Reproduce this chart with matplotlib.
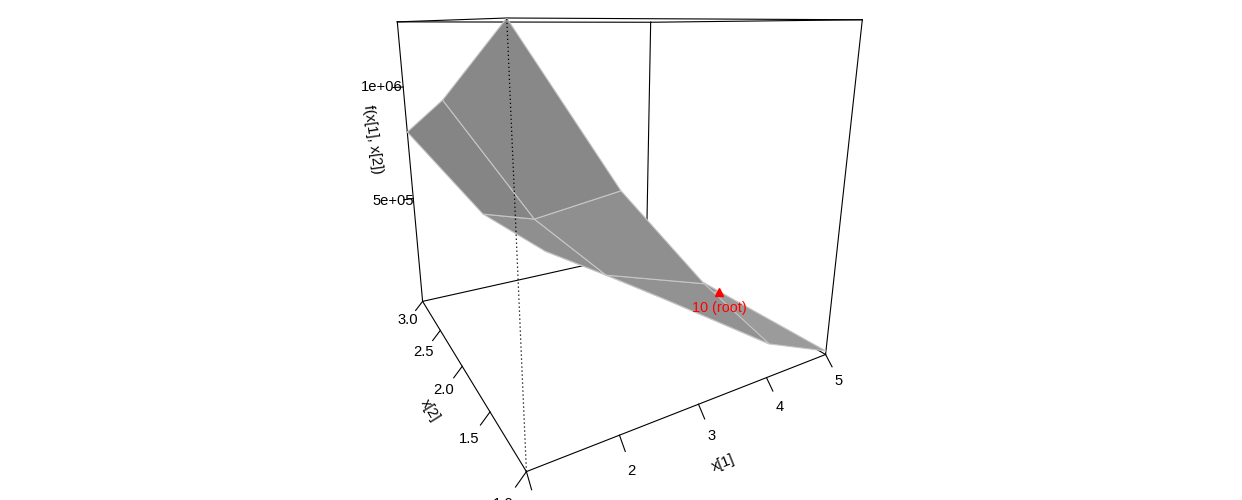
import numpy as np
import matplotlib
matplotlib.use("Agg")
import matplotlib.pyplot as plt
from matplotlib.patches import Polygon

plt.rcParams["font.family"] = ["Liberation Sans", "DejaVu Sans"]

# surface grid, z[i][j] is x2[i], x1[j]
x1 = [1, 2, 3, 4, 5]
x2 = [1, 2, 3]
z = [[1270000, 801000, 442000, 130000, 5500],
     [1010500, 532500, 228000, 34800, 0],
     [804000, 374000, 119500, 15600, 0]]
x1_ticks = [1, 2, 3, 4, 5]
x2_ticks = [1.0, 1.5, 2.0, 2.5, 3.0]
z_ticks = [500000, 1000000]
z_labels = ["5e+05", "1e+06"]
root = (5, 2, 0)
root_label = "10 (root)"

# gray of each cell, from the shading in the picture
cell_gray = [[136, 143, 146, 155],
             [133, 143, 146, 150]]

x1_lim = (1, 5)
x2_lim = (1, 3)
z_lim = (-10000, 1270000)

# perspective view of the unit box, same job as the matrix persp() returns
P = np.array([[591.540007, 158.362947, -118.582427, 526.412498],
              [8.425029, 16.689006, -457.126664, 471.60976],
              [0.35415, 0.620342, -0.195209, 1.0]])


def to_unit(a, b, c):
    return ((a - x1_lim[0]) / (x1_lim[1] - x1_lim[0]),
            (b - x2_lim[0]) / (x2_lim[1] - x2_lim[0]),
            (c - z_lim[0]) / (z_lim[1] - z_lim[0]))


def proj_unit(u, v, w):
    h = P @ np.array([u, v, w, 1.0])
    return h[0] / h[2], h[1] / h[2]


def proj(a, b, c):
    return proj_unit(*to_unit(a, b, c))


fig = plt.figure(figsize=(12.42, 5), dpi=100)
ax = fig.add_axes([0, 0, 1, 1])
ax.set_xlim(0, 1242)
ax.set_ylim(500, 0)
ax.axis("off")

lw = 0.8
fs = 10.6


def edge(a, b, **kw):
    p, q = proj_unit(*a), proj_unit(*b)
    kw.setdefault("color", "black")
    kw.setdefault("lw", lw)
    kw.setdefault("zorder", 1)
    ax.plot([p[0], q[0]], [p[1], q[1]], **kw)


# back of the box
back = [((0, 1, 0), (1, 1, 0)), ((1, 1, 0), (1, 0, 0)), ((0, 1, 0), (0, 1, 1)),
        ((1, 1, 0), (1, 1, 1)), ((1, 0, 0), (1, 0, 1)), ((0, 1, 1), (1, 1, 1)),
        ((1, 1, 1), (1, 0, 1)), ((0, 1, 1), (0, 0, 1)), ((0, 0, 1), (1, 0, 1))]
for a, b in back:
    edge(a, b)

# surface, far cells first
for i in range(len(x2) - 2, -1, -1):
    for j in range(len(x1) - 2, -1, -1):
        corners = [proj(x1[j], x2[i], z[i][j]),
                   proj(x1[j + 1], x2[i], z[i][j + 1]),
                   proj(x1[j + 1], x2[i + 1], z[i + 1][j + 1]),
                   proj(x1[j], x2[i + 1], z[i + 1][j])]
        g = cell_gray[i][j] / 255
        ax.add_patch(Polygon(corners, closed=True, facecolor=(g, g, g),
                             edgecolor="#c6c6c6", lw=0.8, zorder=2))

# front of the box
edge((0, 0, 0), (1, 0, 0), zorder=3)
edge((0, 0, 0), (0, 1, 0), zorder=3)
edge((0, 0, 0), (0, 0, 1), ls=(0, (1, 2.2)), lw=0.9, zorder=3)

# ticks and labels, offsets in box units
for t in x1_ticks:
    u, v, w = to_unit(t, x2_lim[0], 0)
    edge((u, v, 0), (u, v - 0.028, -0.028), zorder=3)
    lx, ly = proj_unit(u + 0.002, v - 0.056, -0.064)
    ax.text(lx, ly, str(t), ha="center", va="center", fontsize=fs)
for t in x2_ticks:
    u, v, w = to_unit(x1_lim[0], t, 0)
    edge((u, v, 0), (u - 0.028, v, -0.03), zorder=3)
    lx, ly = proj_unit(u - 0.060, v, -0.062)
    ax.text(lx, ly, f"{t:.1f}", ha="center", va="center", fontsize=fs)
for t, s in zip(z_ticks, z_labels):
    u, v, w = to_unit(x1_lim[0], x2_lim[1], t)
    edge((u, v, w), (u - 0.033, v, w), zorder=3)
    lx, ly = proj_unit(u - 0.068, v, w + 0.002)
    ax.text(lx, ly, s, ha="center", va="center", fontsize=fs)

# axis titles
lx, ly = proj_unit(0.505, -0.105, -0.115)
ax.text(lx, ly, "x[1]", ha="center", va="center", fontsize=fs, rotation=22,
        rotation_mode="anchor")
lx, ly = proj_unit(-0.105, 0.5, -0.115)
ax.text(lx, ly, "x[2]", ha="center", va="center", fontsize=fs, rotation=-58,
        rotation_mode="anchor")
lx, ly = proj_unit(-0.115, 1, 0.62)
ax.text(lx, ly, "f(x[1], x[2])", ha="center", va="center", fontsize=fs, rotation=-82,
        rotation_mode="anchor")

# root marker
rx, ry = proj(*root)
ax.plot([rx], [ry], marker="^", color="red", ms=5.5, ls="none", zorder=4)
ax.annotate(root_label, (rx, ry), xytext=(0, -11.5), textcoords="offset points",
            ha="center", va="center", color="red", fontsize=10.4, zorder=4)

fig.savefig("out.png", dpi=100)
